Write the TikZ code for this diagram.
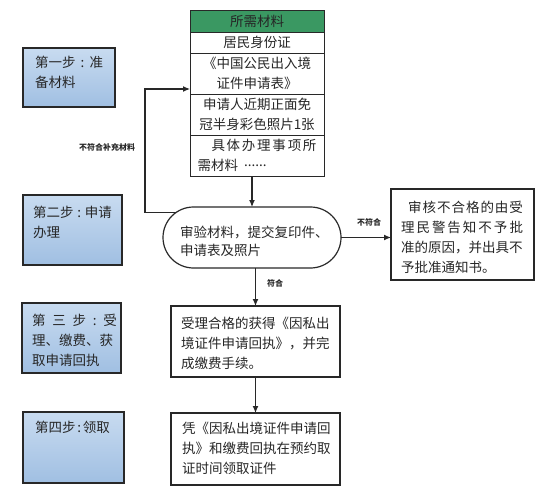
\documentclass[tikz,border=0pt]{standalone}
\usepackage{fontspec}
\setmainfont{Noto Sans CJK SC}
\usetikzlibrary{arrows.meta,shapes.misc}
\definecolor{hdrgreen}{RGB}{58,152,98}
\definecolor{stepTop}{RGB}{200,219,240}
\definecolor{stepBot}{RGB}{160,191,226}
\definecolor{edge}{RGB}{40,40,40}
\newcommand\tst{\rule{0pt}{12.5pt}}
\begin{document}
\begin{tikzpicture}[x=1pt,y=-1pt,
  every node/.style={inner sep=0pt, outer sep=0pt, font=\fontsize{13.5pt}{20pt}\selectfont, text=black!85},
  stepbox/.style={draw=edge, line width=1.8pt, top color=stepTop, bottom color=stepBot, anchor=north west, rectangle},
  cell/.style={draw=edge, line width=0.9pt, minimum width=134pt, anchor=north west, align=center},
  procbox/.style={draw=edge, line width=1.5pt, anchor=north west},
  txt/.style={anchor=north west, align=left},
  lbl/.style={font=\fontsize{8pt}{9pt}\selectfont\bfseries},
  arr/.style={draw=edge, line width=1.1pt, -{Latex[length=7pt,width=6pt]}}
]
\useasboundingbox (0,0) rectangle (554,492);

% step boxes
\node[stepbox, minimum width=92pt, minimum height=59pt] (s1) at (23,48) {};
\node[stepbox, minimum width=99pt, minimum height=70pt] (s2) at (23,195) {};
\node[stepbox, minimum width=99pt, minimum height=70pt] (s3) at (22,303) {};
\node[stepbox, minimum width=101pt, minimum height=71pt] (s4) at (23,412) {};
\node[txt] (s1t) at (35,55.5) {\tst\makebox[68pt][s]{第一步\hfil:\hfil 准}\\备材料};
\node[txt] (s2t) at (33,204.5) {\tst\makebox[79pt][s]{第二步\hfil:\hfil 申请}\\办理};
\node[txt] (s3t) at (32,312.5) {\tst\makebox[85pt][s]{第\hfil 三\hfil 步\hfil :\hfil 受}\\理、缴费、获\\取申请回执};
\node[txt] (s4t) at (35,419.5) {\tst\makebox[75pt][s]{第四步\hfil:\hfil 领取}};

% materials table
\node[cell, fill=hdrgreen, minimum height=22pt] (t0) at (190,10) {所需材料};
\node[cell, minimum height=21pt] (t1) at (t0.south west) {居民身份证};
\node[cell, minimum height=41pt] (t2) at (t1.south west) {《中国公民出入境\\证件申请表》};
\node[cell, minimum height=41pt] (t3) at (t2.south west) {申请人近期正面免\\冠半身彩色照片1张};
\node[cell, align=left, minimum height=41pt] (t4) at (t3.south west) {\hspace*{14pt}\makebox[105pt][s]{具\hfil 体\hfil 办\hfil 理\hfil 事\hfil 项\hfil 所}\\需材料\ \ \raisebox{4pt}{......}};

% review box
\node[draw=edge, line width=1.2pt, rounded rectangle, minimum width=178pt, minimum height=61pt] (rb) at (252,237.5) {};
\node[txt, font=\fontsize{13.5pt}{18.5pt}\selectfont] (rbt) at (180,224.5) {\tst 审验材料，提交复印件、\\申请表及照片};

% rejection box
\node[procbox, line width=1.8pt, minimum width=143pt, minimum height=91pt] (nb) at (391,189) {};
\node[txt] (nbt) at (401,199.5) {\tst\hspace*{7pt}\makebox[115pt][s]{审\hfil 核\hfil 不\hfil 合\hfil 格\hfil 的\hfil 由\hfil 受}\\\makebox[122pt][s]{理\hfil 民\hfil 警\hfil 告\hfil 知\hfil 不\hfil 予\hfil 批}\\准的原因，并出具不\\予批准通知书。};

% step 3 / step 4 process boxes
\node[procbox, minimum width=169pt, minimum height=71pt] (p3) at (171,306) {};
\node[txt] (p3t) at (181,315.5) {\tst 受理合格的获得《因私出\\境证件申请回执》，并完\\成缴费手续。};
\node[procbox, minimum width=169pt, minimum height=72pt] (p4) at (171,413) {};
\node[txt] (p4t) at (182,420.5) {\tst 凭《因私出境证件申请回\\执》和缴费回执在预约取\\证时间领取证件};

% connectors
\draw[arr] (t4.south -| rb.north) -- (rb.north);
\draw[arr] (rb.south -| p3.north) -- (p3.north);
\draw[arr] (p3.south) -- (p4.north);
\draw[arr] (rb.east) -- (rb.east -| nb.west);
\coordinate (fb) at (145,89);
\draw[arr] (rb.162) -| (fb) -- (fb -| t2.west);

% labels
\node[lbl] (l1) at (107,147) {不符合补充材料};
\node[lbl] (l2) at (369,222) {不符合};
\node[lbl] (l3) at (275,283) {符合};
\end{tikzpicture}
\end{document}
